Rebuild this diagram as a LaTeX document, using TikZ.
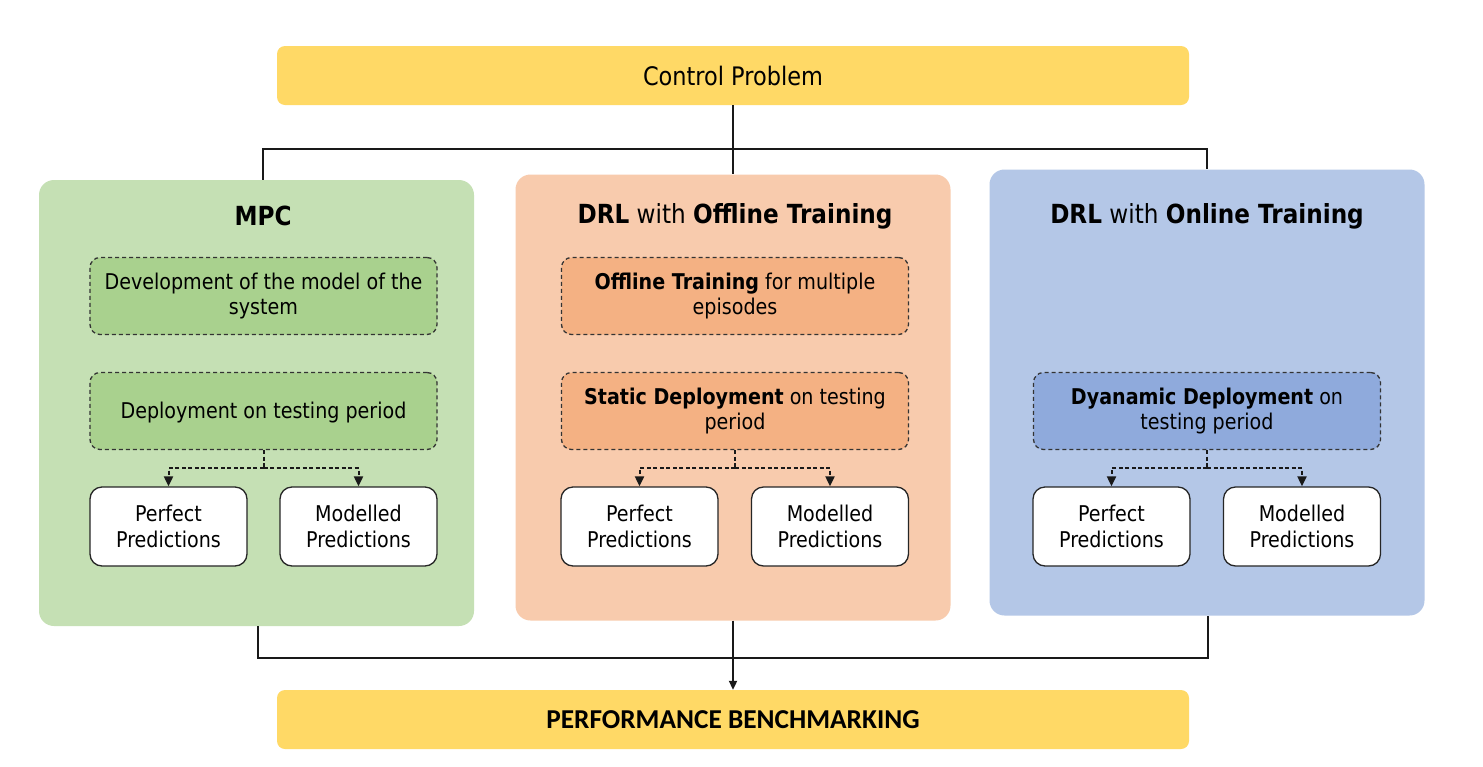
\documentclass[tikz,border=0pt]{standalone}
\usepackage{fontspec}
\setmainfont[FakeStretch=0.88]{DejaVu Sans}
\newfontfamily\benchfont{Carlito}
\usetikzlibrary{arrows.meta,calc}
\definecolor{yel}{HTML}{FFD966}
\definecolor{greenp}{HTML}{C5E0B4}
\definecolor{greeni}{HTML}{A9D18E}
\definecolor{orangep}{HTML}{F8CBAD}
\definecolor{orangei}{HTML}{F4B183}
\definecolor{bluep}{HTML}{B4C7E7}
\definecolor{bluei}{HTML}{8FAADC}
\definecolor{dgray}{HTML}{333333}
\tikzset{
  ybar/.style={draw=none, fill=yel, rounded corners=8pt, minimum width=912pt, minimum height=59pt, inner sep=0pt},
  panel/.style={draw=none, rounded corners=15pt, minimum width=435pt, minimum height=446pt, inner sep=0pt},
  ptitle/.style={font=\fontsize{26.3}{30}\selectfont, inner sep=0pt},
  innerbox/.style={draw=dgray, dash pattern=on 4pt off 3pt, line width=1.3pt, rounded corners=10pt, minimum width=347pt, minimum height=77pt, inner sep=0pt, align=center, font=\fontsize{21.7}{25.5}\selectfont},
  predbox/.style={draw=black!85, fill=white, line width=1.3pt, rounded corners=12pt, minimum width=157pt, minimum height=79pt, inner sep=0pt, align=center, font=\fontsize{21.7}{25.5}\selectfont},
  conn/.style={draw=black!90, line width=2pt},
  dconn/.style={draw=black!90, line width=2pt, dash pattern=on 4pt off 2.5pt, -{Triangle[length=10pt,width=9pt]}},
}
\begin{document}
\begin{tikzpicture}[x=1pt,y=-1pt]
\useasboundingbox[fill=white] (0,0) rectangle (1483,766);

% top and bottom bars
\node[ybar, font=\fontsize{25.5}{30}\selectfont] (cp) at (733,75.5) {Control Problem};
\node[ybar, font=\benchfont\bfseries\fontsize{27.3}{30}\selectfont] (pb) at (733,719.5) {PERFORMANCE BENCHMARKING};

% panels
\node[panel, fill=greenp] (lp) at (256.5,403) {};
\node[panel, fill=orangep] (mp) at (733,397.5) {};
\node[panel, fill=bluep] (rp) at (1207,392.5) {};

% titles
\node[ptitle] (lt) at (263,216) {\textbf{MPC}};
\node[ptitle] (mt) at (735,216) {\textbf{DRL} with \textbf{Offline Training}};
\node[ptitle] (rt) at (1207,216) {\textbf{DRL} with \textbf{Online Training}};

% inner boxes
\node[innerbox, fill=greeni] (ldev) at (263.5,296) {Development of the model of the\\system};
\node[innerbox, fill=greeni, text height=17pt, text depth=2pt] (ldep) at (263.5,411) {Deployment on testing period};
\node[innerbox, fill=orangei] (moff) at (735,296) {\textbf{Offline Training} for multiple\\episodes};
\node[innerbox, fill=orangei] (mdep) at (735,411) {\textbf{Static Deployment} on testing\\period};
\node[innerbox, fill=bluei] (rdep) at (1207,411) {\textbf{Dyanamic Deployment} on\\testing period};

% prediction boxes
\node[predbox] (lpp) at (168.5,526.5) {Perfect\\Predictions};
\node[predbox] (lpm) at (358.5,526.5) {Modelled\\Predictions};
\node[predbox] (mpp) at (639.5,526.5) {Perfect\\Predictions};
\node[predbox] (mpm) at (830,526.5) {Modelled\\Predictions};
\node[predbox] (rpp) at (1111.5,526.5) {Perfect\\Predictions};
\node[predbox] (rpm) at (1302,526.5) {Modelled\\Predictions};

% dashed split connectors
\coordinate (lsp) at (263.5,468);
\coordinate (msp) at (735,468);
\coordinate (rsp) at (1207,468);
\draw[conn, dash pattern=on 4pt off 2.5pt] (ldep.south) -- (lsp);
\draw[dconn] (lsp) -| (lpp.north);
\draw[dconn] (lsp) -| (lpm.north);
\draw[conn, dash pattern=on 4pt off 2.5pt] (mdep.south) -- (msp);
\draw[dconn] (msp) -| (mpp.north);
\draw[dconn] (msp) -| (mpm.north);
\draw[conn, dash pattern=on 4pt off 2.5pt] (rdep.south) -- (rsp);
\draw[dconn] (rsp) -| (rpp.north);
\draw[dconn] (rsp) -| (rpm.north);

% top connectors
\coordinate (tj) at (733,149);
\draw[conn] (cp.south) -- (mp.north);
\draw[conn] ($(lp.north)+(6.5,0)$) |- (tj) -| (rp.north);

% bottom connectors
\coordinate (bj) at (733,658);
\draw[conn] ($(lp.south)+(1.5,0)$) |- (bj) -| ($(rp.south)+(1,0)$);
\draw[conn, -{Triangle[length=9pt,width=8pt]}] (mp.south) -- (pb.north);
\end{tikzpicture}
\end{document}
